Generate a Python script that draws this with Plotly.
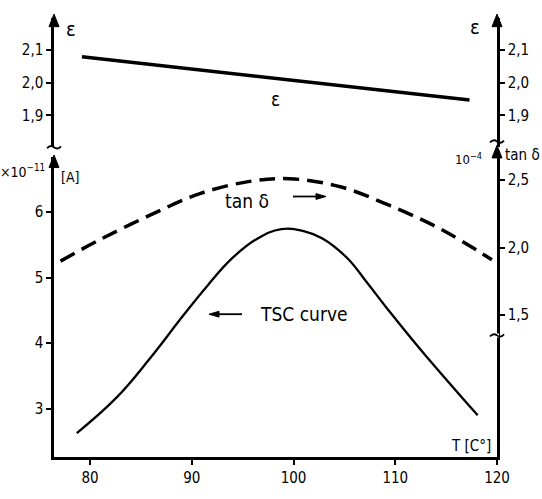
import plotly.graph_objects as go

# ---- data ----
T_eps = [79.2, 98.0, 117.3]
eps = [2.079, 2.014, 1.947]

T_tan = [77.1, 81.0, 85.9, 90.8, 95.7, 99.6, 104.6, 109.5, 114.4, 119.5]
tan_d = [1.90, 2.06, 2.24, 2.40, 2.49, 2.51, 2.45, 2.31, 2.14, 1.91]

T_tsc = [78.7, 82.6, 85.9, 89.1, 91.5, 94.0, 96.4, 98.8, 101.0, 102.8, 105.2, 107.2, 109.2, 112.5, 118.1]
tsc = [2.63, 3.17, 3.77, 4.41, 4.87, 5.30, 5.59, 5.74, 5.71, 5.60, 5.31, 4.93, 4.53, 3.90, 2.90]

x_ticks = [80, 90, 100, 110, 120]
x_ticklabels = ["80", "90", "100", "110", "120"]
tsc_ticks = [3, 4, 5, 6]
tsc_ticklabels = ["3", "4", "5", "6"]
eps_ticks = [1.9, 2.0, 2.1]
eps_ticklabels = ["1,9", "2,0", "2,1"]
tan_ticks = [1.5, 2.0, 2.5]
tan_ticklabels = ["1,5", "2,0", "2,5"]

W, H = 542, 499
ML, MR, MT, MB = 54, 45, 18, 26
PW, PH = W - ML - MR, H - MT - MB
FONT = "DejaVu Sans Condensed, DejaVu Sans, sans-serif"


def px(x):
    return (x - ML) / PW


def py(y):
    return (H - MB - y) / PH


lower_dom = [0, py(162)]
upper_dom = [py(152), 1]

fig = go.Figure()
fig.add_trace(go.Scatter(x=T_eps, y=eps, mode="lines", yaxis="y2",
                         line=dict(color="black", width=3.5), showlegend=False))
fig.add_trace(go.Scatter(x=T_tan, y=tan_d, mode="lines", yaxis="y3",
                         line=dict(color="black", width=3.5, dash="16px,8px", shape="spline"),
                         showlegend=False))
fig.add_trace(go.Scatter(x=T_tsc, y=tsc, mode="lines", yaxis="y",
                         line=dict(color="black", width=2.3, shape="spline", smoothing=1.2),
                         showlegend=False))
fig.add_trace(go.Scatter(x=[None], y=[None], yaxis="y4", showlegend=False))

axcommon = dict(showgrid=False, zeroline=False, showline=True, linecolor="black", linewidth=2.5,
                ticks="outside", ticklen=5, tickwidth=1.5, tickcolor="black",
                tickfont=dict(family=FONT, size=15, color="black"))

fig.update_layout(
    width=W, height=H, margin=dict(l=ML, r=MR, t=MT, b=MB),
    paper_bgcolor="white", plot_bgcolor="white",
    xaxis=dict(range=[76.46, 120], tickvals=x_ticks, ticktext=x_ticklabels, **axcommon),
    yaxis=dict(domain=lower_dom, range=[2.265, 6.84], tickvals=tsc_ticks,
               ticktext=tsc_ticklabels, **axcommon),
    yaxis2=dict(domain=upper_dom, range=[1.803, 2.197], tickvals=eps_ticks,
                ticktext=eps_ticklabels, anchor="x", **axcommon),
    yaxis3=dict(overlaying="y", side="right", range=[0.45, 2.671], tickvals=tan_ticks,
                ticktext=tan_ticklabels, anchor="x", **axcommon),
    yaxis4=dict(overlaying="y2", side="right", range=[1.803, 2.197], tickvals=eps_ticks,
                ticktext=eps_ticklabels, anchor="x", **axcommon),
)

shapes = []


def tri_up(xc, ytip, w=5, h=13):
    return dict(type="path", xref="paper", yref="paper",
                path=f"M {px(xc)} {py(ytip)} L {px(xc - w)} {py(ytip + h)} L {px(xc + w)} {py(ytip + h)} Z",
                fillcolor="black", line=dict(color="black", width=1))


def arrow_h(x0, x1, y):
    d = 1 if x1 > x0 else -1
    hx = x1 - d * 10
    return [dict(type="line", xref="paper", yref="paper", x0=px(x0), x1=px(hx), y0=py(y), y1=py(y),
                 line=dict(color="black", width=1.8)),
            dict(type="path", xref="paper", yref="paper",
                 path=f"M {px(x1)} {py(y)} L {px(hx)} {py(y - 3)} L {px(hx)} {py(y + 3)} Z",
                 fillcolor="black", line=dict(color="black", width=1))]


def tilde(xc, y, w=7):
    return dict(type="path", xref="paper", yref="paper",
                path=(f"M {px(xc - w)} {py(y + 1)} Q {px(xc - w/2)} {py(y - 3)} {px(xc)} {py(y)} "
                      f"T {px(xc + w)} {py(y - 1)}"),
                line=dict(color="black", width=1.8))


shapes += [tri_up(ML, 14), tri_up(W - MR, 14), tri_up(ML, 160), tri_up(W - MR, 150)]
shapes += [tilde(ML, 152), tilde(W - MR, 146)]
shapes.append(dict(type="rect", xref="paper", yref="paper", x0=px(W - MR - 2), x1=px(W - MR + 2),
                   y0=py(349), y1=py(345), fillcolor="white", line=dict(width=0), layer="above"))
shapes.append(tilde(W - MR, 347))
shapes += arrow_h(293, 326, 203)
shapes += arrow_h(242, 209, 325)
fig.update_layout(shapes=shapes)

ann = []


def text(x, y, t, size=15, xanchor="center"):
    ann.append(dict(x=px(x), y=py(y), xref="paper", yref="paper", text=t, showarrow=False,
                    xanchor=xanchor, yanchor="middle",
                    font=dict(family=FONT, size=size, color="black")))


text(64, 29, "ε", 20, "left")
text(482, 27, "ε", 20, "right")
text(275, 102, "ε", 19)
text(47, 177, "×10<sup>−11</sup>", 14, "right")
text(59, 183, "[A]", 14, "left")
text(453, 164, "10<sup>−4</sup>", 13, "left")
text(503, 160, "tan δ", 15, "left")
text(247, 208, "tan δ", 19)
text(304, 325, "TSC curve", 19)
text(471, 462, "T [C°]", 15)
fig.update_layout(annotations=ann)

fig.write_html("out.html")
